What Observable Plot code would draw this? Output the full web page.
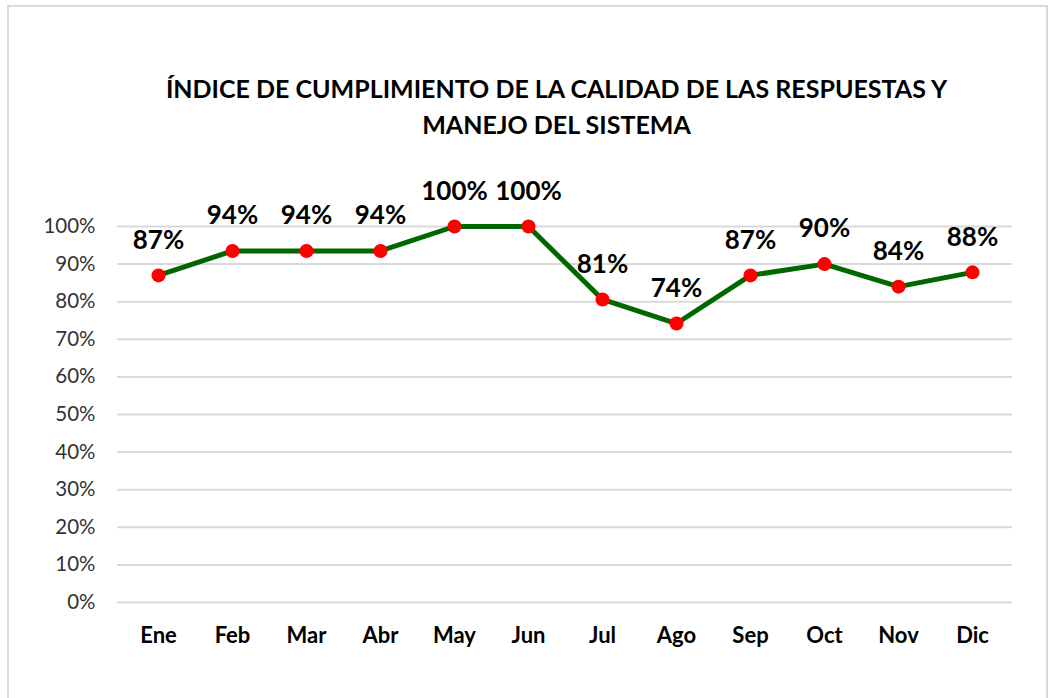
<!DOCTYPE html>
<html><head><meta charset="utf-8">
<script src="https://cdn.jsdelivr.net/npm/d3@7"></script>
<script src="https://cdn.jsdelivr.net/npm/@observablehq/plot@0.6"></script>
<style>
html,body{margin:0;padding:0;background:#fff;width:1057px;height:698px;overflow:hidden;}
#frame{position:absolute;left:7px;top:5px;width:1041px;height:700px;border:2px solid #d9d9d9;box-sizing:border-box;}
#title{position:absolute;left:0;top:70px;width:1113px;text-align:center;font-family:Lato,sans-serif;font-weight:bold;font-size:25px;line-height:36px;color:#000;}
#chart{position:absolute;left:0;top:150px;}
</style></head>
<body>
<div id="frame"></div>
<div id="title">ÍNDICE DE CUMPLIMIENTO DE LA CALIDAD DE LAS RESPUESTAS Y<br>MANEJO DEL SISTEMA</div>
<div id="chart"></div>
<script>
const months = ["Ene","Feb","Mar","Abr","May","Jun","Jul","Ago","Sep","Oct","Nov","Dic"];
const values = [0.87,0.935,0.935,0.935,1.0,1.0,0.806,0.742,0.87,0.90,0.84,0.878];
const labels = ["87%","94%","94%","94%","100%","100%","81%","74%","87%","90%","84%","88%"];
const yTicks = [0,0.1,0.2,0.3,0.4,0.5,0.6,0.7,0.8,0.9,1.0];

const data = months.map((m,i)=>({month:m, value:values[i], label:labels[i]}));

const chart = Plot.plot({
  width: 1057,
  height: 520,
  marginLeft: 117,
  marginRight: 45,
  marginTop: 76,
  marginBottom: 68,
  style: {fontFamily: "Lato, sans-serif", background: "transparent"},
  x: {type: "point", domain: months, padding: 0.5, label: null},
  y: {domain: [0,1], label: null},
  marks: [
    Plot.gridY(yTicks, {stroke: "#d9d9d9", strokeOpacity: 1, strokeWidth: 2}),
    Plot.axisY({ticks: yTicks, tickFormat: d3.format(".0%"), tickSize: 0, tickPadding: 22, fontSize: 20.5, fill: "#333", label: null}),
    Plot.axisX({tickSize: 0, tickPadding: 25, fontSize: 22, fontWeight: "bold", fill: "#000", label: null}),
    Plot.line(data, {x: "month", y: "value", stroke: "#006600", strokeWidth: 5}),
    Plot.dot(data, {x: "month", y: "value", r: 7, fill: "#ff0000", stroke: "none"}),
    Plot.text(data, {x: "month", y: "value", text: "label", dy: -35, fontSize: 26, fontWeight: "bold", fill: "#000"})
  ]
});
document.getElementById("chart").appendChild(chart);
</script>
</body></html>
